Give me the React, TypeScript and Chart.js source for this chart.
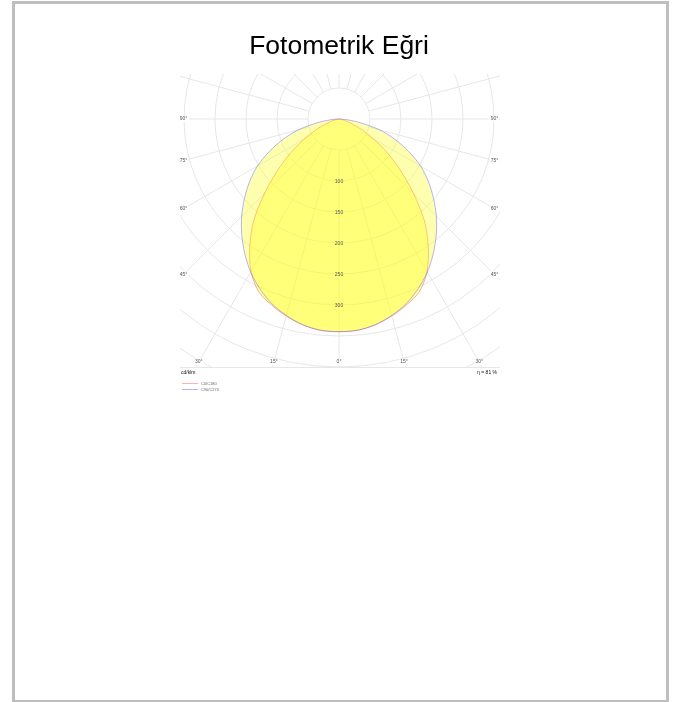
import React, { useEffect, useRef } from "react";
import { Chart, registerables } from "chart.js";

Chart.register(...registerables);

// ---- data (cd/klm, gamma angles measured from nadir) ----
const gammaAngles = [0, 5, 10, 15, 20, 25, 30, 35, 40, 45, 50, 55, 60, 65, 70, 75, 80, 85, 90];
const c0c180 = [343, 342, 337, 329, 319, 307, 284, 251, 214, 170, 130, 95, 64, 40, 22, 11, 5, 2, 0];
const c90c270 = [343, 342, 337, 328, 317, 302, 285, 265, 244, 222, 199, 176, 152, 124, 96, 68, 36, 13, 0];
const seriesNames = ["C0/C180", "C90/C270"];
const ringValues = [50, 100, 150, 200, 250, 300, 350, 400, 450, 500, 550];
const ringLabels = [100, 150, 200, 250, 300];
const rayAngles = [0, 15, 30, 45, 60, 75, 90, 105, 120, 135, 150, 165, 180];
const angleLabels = [0, 15, 30, 45, 60, 75, 90];
const titleText = "Fotometrik Eğri";
const unitText = "cd/klm";
const efficiencyText = "η = 81 %";

const FONT = "'Liberation Sans', Arial, sans-serif";
const GRID = "#e7e7e7";
const RED_LINE = "rgba(255,70,70,0.45)";
const BLUE_LINE = "rgba(90,90,255,0.45)";
const FILL = "rgba(255,255,0,0.31)";

function toPoints(values: number[]) {
  const pts: { x: number; y: number }[] = [];
  for (let i = gammaAngles.length - 1; i >= 0; i--) {
    const a = (gammaAngles[i] * Math.PI) / 180;
    pts.push({ x: -values[i] * Math.sin(a), y: -values[i] * Math.cos(a) });
  }
  for (let i = 1; i < gammaAngles.length; i++) {
    const a = (gammaAngles[i] * Math.PI) / 180;
    pts.push({ x: values[i] * Math.sin(a), y: -values[i] * Math.cos(a) });
  }
  return pts;
}

const polarPlugin = {
  id: "polarGrid",
  beforeDatasetsDraw(chart: any) {
    const { ctx, chartArea: area } = chart;
    const xs = chart.scales.x;
    const ys = chart.scales.y;
    const cx = xs.getPixelForValue(0);
    const cy = ys.getPixelForValue(0);
    const k = xs.getPixelForValue(1) - cx;
    ctx.save();
    ctx.beginPath();
    ctx.rect(area.left, area.top, area.right - area.left, area.bottom - area.top);
    ctx.clip();
    ctx.strokeStyle = GRID;
    ctx.lineWidth = 1;
    for (const r of ringValues) {
      ctx.beginPath();
      ctx.arc(cx, cy, r * k, 0, Math.PI * 2);
      ctx.stroke();
    }
    for (const a of rayAngles) {
      for (const s of [-1, 1]) {
        if ((a === 0 || a === 180) && s === -1) continue;
        const rad = (a * Math.PI) / 180;
        const r0 = ringValues[0];
        const r1 = 900;
        ctx.beginPath();
        ctx.moveTo(xs.getPixelForValue(s * r0 * Math.sin(rad)), ys.getPixelForValue(-r0 * Math.cos(rad)));
        ctx.lineTo(xs.getPixelForValue(s * r1 * Math.sin(rad)), ys.getPixelForValue(-r1 * Math.cos(rad)));
        ctx.stroke();
      }
    }
    ctx.restore();
  },
  afterDatasetsDraw(chart: any) {
    const { ctx, chartArea: area } = chart;
    const xs = chart.scales.x;
    const ys = chart.scales.y;
    const cx = xs.getPixelForValue(0);
    const cy = ys.getPixelForValue(0);
    const k = xs.getPixelForValue(1) - cx;
    ctx.save();
    // ring value labels
    ctx.font = `5px ${FONT}`;
    ctx.fillStyle = "#555";
    ctx.textAlign = "center";
    ctx.textBaseline = "middle";
    for (const r of ringLabels) {
      ctx.fillText(String(r), cx, cy + r * k + 1);
    }
    // angle labels along the inner frame
    const half = 155.5;
    const bottomDy = area.bottom - cy - 5;
    for (const a of angleLabels) {
      for (const s of [-1, 1]) {
        if (a === 0 && s === -1) continue;
        const rad = (a * Math.PI) / 180;
        const dx = Math.sin(rad);
        const dy = Math.cos(rad);
        const tSide = dx > 1e-6 ? half / dx : Infinity;
        const tBottom = dy > 1e-6 ? bottomDy / dy : Infinity;
        const t = Math.min(tSide, tBottom);
        const lx = cx + s * dx * t;
        const ly = cy + dy * t;
        const txt = `${a}°`;
        const w = ctx.measureText(txt).width;
        ctx.fillStyle = "#fff";
        ctx.fillRect(lx - w / 2 - 1, ly - 3, w + 2, 6);
        ctx.fillStyle = "#555";
        ctx.fillText(txt, lx, ly);
      }
    }
    // frame bottom line
    ctx.strokeStyle = GRID;
    ctx.beginPath();
    ctx.moveTo(area.left, area.bottom + 0.5);
    ctx.lineTo(area.right, area.bottom + 0.5);
    ctx.stroke();
    // unit and efficiency
    ctx.fillStyle = "#111";
    ctx.font = `5px ${FONT}`;
    ctx.textAlign = "left";
    ctx.fillText(unitText, area.left + 1, area.bottom + 6);
    ctx.textAlign = "right";
    ctx.fillText(efficiencyText, area.right - 3, area.bottom + 6);
    // legend
    const lcolors = ["rgba(255,60,60,0.4)", "rgba(60,60,255,0.4)"];
    ctx.font = `4px ${FONT}`;
    ctx.textAlign = "left";
    for (let i = 0; i < seriesNames.length; i++) {
      const y = area.bottom + 16 + i * 6;
      ctx.strokeStyle = lcolors[i];
      ctx.lineWidth = 1;
      ctx.beginPath();
      ctx.moveTo(area.left + 2, y + 0.5);
      ctx.lineTo(area.left + 18, y + 0.5);
      ctx.stroke();
      ctx.fillStyle = "#666";
      ctx.fillText(seriesNames[i], area.left + 21, y + 0.5);
    }
    // title
    ctx.fillStyle = "#000";
    ctx.font = `26.5px ${FONT}`;
    ctx.textAlign = "center";
    ctx.textBaseline = "alphabetic";
    ctx.fillText(titleText, cx, 54);
    ctx.restore();
  },
};

export default function App() {
  const ref = useRef<HTMLCanvasElement | null>(null);
  useEffect(() => {
    if (!ref.current) return;
    const k = 0.62;
    const cxPx = 339;
    const cyPx = 119;
    const left = 180, right = 500, top = 74, bottom = 367;
    const chart = new Chart(ref.current, {
      type: "scatter",
      data: {
        datasets: [
          {
            label: seriesNames[1],
            data: toPoints(c90c270),
            showLine: true,
            fill: "shape",
            backgroundColor: FILL,
            borderColor: BLUE_LINE,
            borderWidth: 1,
            pointRadius: 0,
            tension: 0.3,
          },
          {
            label: seriesNames[0],
            data: toPoints(c0c180),
            showLine: true,
            fill: "shape",
            backgroundColor: FILL,
            borderColor: RED_LINE,
            borderWidth: 1,
            pointRadius: 0,
            tension: 0.3,
          },
        ],
      } as any,
      options: {
        responsive: false,
        animation: false,
        devicePixelRatio: 1,
        layout: { padding: { left, top, right: 676 - right, bottom: 702 - bottom } },
        scales: {
          x: { type: "linear", display: false, min: (left - cxPx) / k, max: (right - cxPx) / k },
          y: { type: "linear", display: false, min: -(bottom - cyPx) / k, max: (cyPx - top) / k },
        },
        plugins: { legend: { display: false }, tooltip: { enabled: false }, title: { display: false } },
      } as any,
      plugins: [polarPlugin],
    });
    return () => chart.destroy();
  }, []);
  return (
    <div style={{ position: "absolute", left: 0, top: 0, width: 676, height: 702, background: "#fff" }}>
      <div
        style={{
          position: "absolute",
          left: 12,
          top: 1,
          width: 651,
          height: 696,
          border: "3px solid #bebebe",
        }}
      />
      <canvas ref={ref} width={676} height={702} style={{ position: "absolute", left: 0, top: 0 }} />
    </div>
  );
}
